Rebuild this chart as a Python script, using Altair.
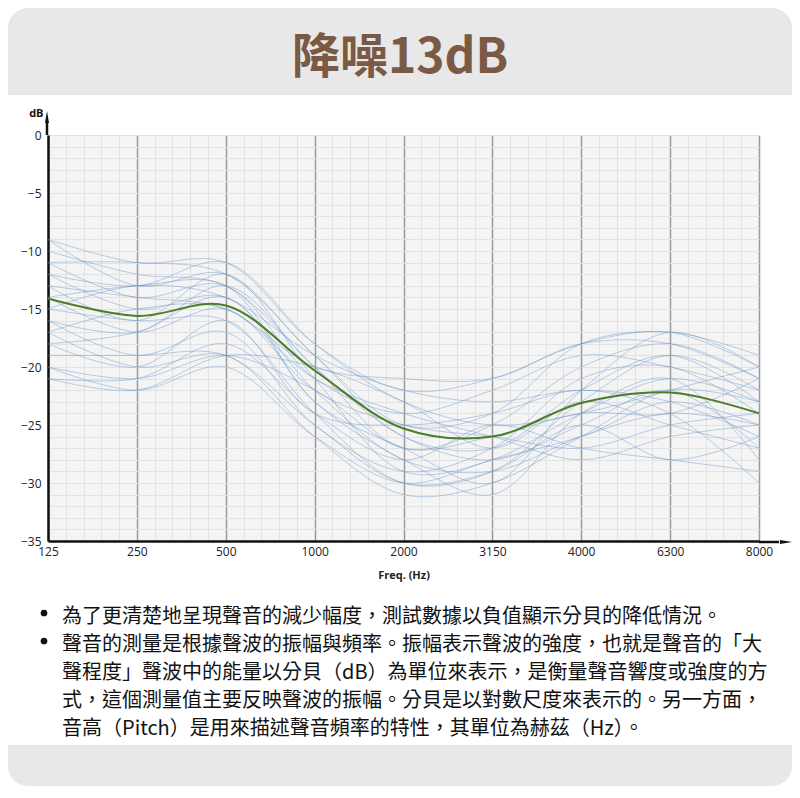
import altair as alt
import pandas as pd

# ---------------- data ----------------
FREQS = ["125", "250", "500", "1000", "2000", "3150", "4000", "6300", "8000"]

AVERAGE = [-14.1, -15.6, -14.7, -20.3, -25.3, -26.0, -23.1, -22.2, -24.0]

L01 = [-9, -11, -11, -18, -22, -21, -18, -17, -20]
L02 = [-9, -13, -12, -19, -25, -24, -18, -17, -19]
L03 = [-10, -12, -13, -20, -27, -25, -20, -18, -21]
L04 = [-11, -11, -12, -19, -26, -27, -22, -19, -23]
L05 = [-11, -14, -13, -21, -24, -22, -19, -20, -22]
L06 = [-12, -13, -11, -18, -23, -25, -24, -22, -20]
L07 = [-12, -15, -14, -22, -28, -29, -26, -24, -25]
L08 = [-13, -14, -15, -20, -21, -21, -18, -18, -21]
L09 = [-13, -16, -12, -21, -29, -28, -24, -21, -23]
L10 = [-14, -13, -13, -23, -27, -30, -22, -17, -20]
L11 = [-14, -17, -15, -22, -25, -26, -27, -25, -24]
L12 = [-15, -16, -16, -24, -30, -29, -23, -19, -22]
L13 = [-15, -13, -14, -19, -22, -23, -22, -23, -26]
L14 = [-16, -17, -13, -20, -26, -28, -25, -22, -27]
L15 = [-16, -19, -17, -25, -29, -27, -21, -20, -24]
L16 = [-17, -15, -15, -21, -24, -26, -28, -26, -25]
L17 = [-17, -20, -19, -26, -31, -30, -26, -22, -23]
L18 = [-18, -17, -14, -23, -28, -31, -24, -21, -28]
L19 = [-18, -20, -16, -24, -25, -24, -22, -24, -30]
L20 = [-19, -19, -19, -25, -30, -29, -25, -28, -26]
L21 = [-20, -21, -19, -22, -27, -26, -24, -24, -21]
L22 = [-20, -22, -20, -26, -30, -28, -26, -23, -25]
L23 = [-21, -21, -18, -24, -28, -25, -27, -28, -29]
L24 = [-21, -22, -19, -20, -23, -27, -23, -25, -27]

SAMPLES = [L01, L02, L03, L04, L05, L06, L07, L08, L09, L10, L11, L12,
           L13, L14, L15, L16, L17, L18, L19, L20, L21, L22, L23, L24]

TITLE = "降噪13dB"
X_TITLE = "Freq. (Hz)"
Y_TITLE = "dB"
BULLET_1 = ["為了更清楚地呈現聲音的減少幅度，測試數據以負值顯示分貝的降低情況。"]
BULLET_2 = [
    "聲音的測量是根據聲波的振幅與頻率。振幅表示聲波的強度，也就是聲音的「大",
    "聲程度」聲波中的能量以分貝（dB）為單位來表示，是衡量聲音響度或強度的方",
    "式，這個測量值主要反映聲波的振幅。分貝是以對數尺度來表示的。另一方面，",
    "音高（Pitch）是用來描述聲音頻率的特性，其單位為赫茲（Hz）。",
]

# ---------------- tables ----------------
rows = []
for s, vals in enumerate(SAMPLES):
    for i, v in enumerate(vals):
        rows.append({"idx": i, "freq": FREQS[i], "db": v, "series": f"s{s:02d}"})
samples_df = pd.DataFrame(rows)
avg_df = pd.DataFrame({"idx": list(range(len(FREQS))), "freq": FREQS, "db": AVERAGE})

W, H = 711, 406
FONT = "Noto Sans CJK TC"
AX_FONT = "Open Sans"

label_arr = "[" + ",".join(f"'{f}'" for f in FREQS) + "]"
is_major = "abs(datum.value - round(datum.value)) < 0.01"

x_axis = alt.Axis(
    values=[round(i * 0.2, 1) for i in range(41)],
    labelExpr=f"{is_major} ? {label_arr}[round(datum.value)] : ''",
    labelFlush=False,
    grid=True,
    gridColor={"condition": {"test": is_major, "value": "#9a9a9a"}, "value": "#e2e2e2"},
    gridWidth={"condition": {"test": is_major, "value": 1.5}, "value": 1},
    ticks=False,
    domainColor="#111111",
    domainWidth=2.5,
    labelFont=AX_FONT,
    labelFontSize=12,
    labelColor="#222222",
    labelPadding=5,
    title=X_TITLE,
    titleFont=AX_FONT,
    titleFontSize=11,
    titleFontWeight="bold",
    titleColor="#222222",
    titlePadding=12,
)
y_axis = alt.Axis(
    values=list(range(-35, 1)),
    labelExpr="datum.value % 5 === 0 ? datum.label : ''",
    grid=True,
    gridColor="#e2e2e2",
    gridWidth=1,
    ticks=False,
    domainColor="#111111",
    domainWidth=2.5,
    labelFont=AX_FONT,
    labelFontSize=12,
    labelColor="#222222",
    labelPadding=7,
    title=Y_TITLE,
    titleAngle=0,
    titleFont=AX_FONT,
    titleFontSize=11,
    titleFontWeight="bold",
    titleColor="#111111",
    titleAlign="right",
    titleBaseline="middle",
    titleX=-5,
    titleY=-22,
)

x_enc = alt.X("idx:Q", scale=alt.Scale(domain=[0, 8], nice=False, zero=False), axis=x_axis)
y_enc = alt.Y("db:Q", scale=alt.Scale(domain=[-35, 0], nice=False, zero=False), axis=y_axis)

one = alt.Data(values=[{"k": 1}])

# decorative panels
top_band = alt.Chart(one).mark_rect(
    color="#e8e8e8", cornerRadiusTopLeft=20, cornerRadiusTopRight=20
).encode(x=alt.value(-40), x2=alt.value(744), y=alt.value(-127), y2=alt.value(-40))

bottom_band = alt.Chart(one).mark_rect(
    color="#e8e8e8", cornerRadiusBottomLeft=20, cornerRadiusBottomRight=20
).encode(x=alt.value(-40), x2=alt.value(744), y=alt.value(610), y2=alt.value(651))

title_text = alt.Chart(one).mark_text(
    text=TITLE, font=FONT, fontSize=48, fontWeight="bold", color="#7a5a45",
    align="center", baseline="middle"
).encode(x=alt.value(352), y=alt.value(-76))

blue = alt.Chart(samples_df).mark_line(
    interpolate="catmull-rom", color="#5a8bc2", strokeWidth=1, opacity=0.4
).encode(x=x_enc, y=y_enc, detail="series:N")

green = alt.Chart(avg_df).mark_line(
    interpolate="catmull-rom", color="#4b7d2a", strokeWidth=2
).encode(x=x_enc, y=y_enc)

# axis arrows
y_ext = alt.Chart(one).mark_rule(color="#111111", strokeWidth=2.5).encode(
    x=alt.value(-1), y=alt.value(-13), y2=alt.value(0))
y_head = alt.Chart(one).mark_point(
    shape="M0,-1L0.33,1L-0.33,1Z", filled=True, color="#111111", opacity=1, size=150
).encode(x=alt.value(-1), y=alt.value(-18))
x_ext = alt.Chart(one).mark_rule(color="#111111", strokeWidth=2.5).encode(
    x=alt.value(W), x2=alt.value(W + 20), y=alt.value(H + 1))
x_head = alt.Chart(one).mark_point(
    shape="M1,0L-1,0.33L-1,-0.33Z", filled=True, color="#111111", opacity=1, size=150
).encode(x=alt.value(W + 27), y=alt.value(H + 1))

# bullet text
dot1 = alt.Chart(one).mark_point(shape="circle", filled=True, color="#111111",
                                 opacity=1, size=45).encode(x=alt.value(-4), y=alt.value(478))
dot2 = alt.Chart(one).mark_point(shape="circle", filled=True, color="#111111",
                                 opacity=1, size=45).encode(x=alt.value(-4), y=alt.value(506))

text1 = alt.Chart(one).mark_text(
    text=BULLET_1, font=FONT, fontSize=20, color="#111111", align="left",
    baseline="middle", lineHeight=28
).encode(x=alt.value(14), y=alt.value(482))
text2 = alt.Chart(one).mark_text(
    text=BULLET_2, font=FONT, fontSize=20, color="#111111", align="left",
    baseline="middle", lineHeight=28
).encode(x=alt.value(14), y=alt.value(510))

chart = alt.layer(
    top_band, bottom_band, title_text, blue, green,
    y_ext, y_head, x_ext, x_head, dot1, dot2, text1, text2
).properties(
    width=W, height=H,
    autosize=alt.AutoSizeParams(type="none"),
    padding={"left": 40, "top": 127, "right": 33, "bottom": 245},
    background="#ffffff",
).configure_view(fill="#f4f4f4", strokeWidth=0)

chart.save("out.html", embed_options={"renderer": "svg", "actions": False})
